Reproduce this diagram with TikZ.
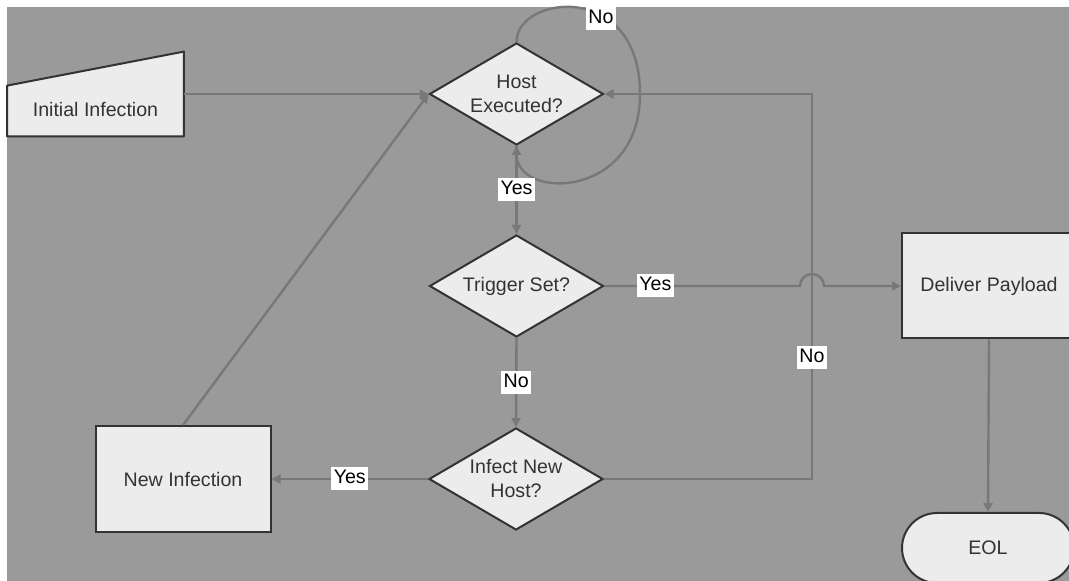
\documentclass[tikz,border=0pt]{standalone}
\usepackage{fontspec}
\setmainfont{Liberation Sans}
\usetikzlibrary{shapes.geometric,arrows.meta,calc}
\definecolor{canvas}{HTML}{9A9A9A}
\definecolor{wire}{HTML}{787878}
\definecolor{boxfill}{HTML}{ECECEC}
\definecolor{ink}{HTML}{333333}
\pgfdeclarelayer{bg}
\pgfsetlayers{bg,main}
\begin{document}
\begin{tikzpicture}[x=0.5pt,y=-0.5pt,
  font=\fontsize{9.8}{12}\selectfont, text=ink,
  block/.style={draw=ink, line width=1pt, fill=boxfill, rectangle, inner sep=0pt, align=center},
  decision/.style={draw=ink, line width=1pt, fill=boxfill, diamond, aspect=1.7,
    inner sep=0pt, minimum width=87pt, minimum height=51pt, align=center},
  flow/.style={draw=wire, line width=1.2pt, -{Triangle[length=4.5pt,width=4.5pt]}},
  tag/.style={fill=white, text=black, inner xsep=1.2pt, inner ysep=1pt,
    text height=7.2pt, text depth=2.3pt}
]
\useasboundingbox (0,0) rectangle (1069,581);

% decisions and process steps
\node[decision] (host)   at (516.5,94)  {Host\\Executed?};
\node[decision] (trig)   at (516.5,286) {Trigger Set?};
\node[decision] (infect) at (516,479)   {Infect New\\Host?};
\node[block, minimum width=87.5pt, minimum height=53pt] (newinf)  at (183,479) {New Infection};
\node[block, minimum width=87pt, minimum height=52.5pt] (deliver) at (989,286) {Deliver Payload};
\node[block, rounded corners=17.5pt, minimum width=86pt, minimum height=35pt] (eol) at (988,548) {EOL};

% manual-input shape: text node plus slanted outline drawn behind it
\node[inner sep=0pt, minimum width=88pt, minimum height=26pt] (init) at (95.5,110) {Initial Infection};

\begin{pgfonlayer}{bg}
  \fill[canvas] (7,7) rectangle (1069,581);
  \filldraw[draw=ink, fill=boxfill, line width=1pt, line join=round]
    (init.south west) -- (init.south east) -- ($(init.north east)+(0,-32)$)
    -- ($(init.north west)+(0,2)$) -- cycle;
\end{pgfonlayer}

\coordinate (bus) at (812,94);

% connectors
\draw[flow] (init.east |- host.west) -- (host.west);
\draw[flow] (newinf.north) -- (host.west);
\draw[flow] (host.north) .. controls (516.5,-5) and (640,-20) .. (640,94)
  .. controls (640,200) and (516.5,200) .. (host.south);
\node[tag] (noloop) at (601,19) {No};
\draw[flow] (host.south) -- node[tag] (yes1) {Yes} (trig.north);
\draw[flow] (trig.south) -- node[tag] (no1) {No} (infect.north);
\draw[flow] (infect.west) -- node[tag] (yes2) {Yes} (newinf.east);
\draw[flow] (infect.east) -| node[tag, pos=0.658] (no2) {No} (bus) -- (host.east);
\draw[flow] (trig.east) -- node[tag, pos=0.26] (yes3) {Yes}
  ($(trig.east -| bus)+(-6pt,0)$) arc[start angle=180, end angle=0, radius=6pt]
  -- (deliver.west);
\draw[flow] (deliver.south) -- (eol.north);
\end{tikzpicture}
\end{document}
